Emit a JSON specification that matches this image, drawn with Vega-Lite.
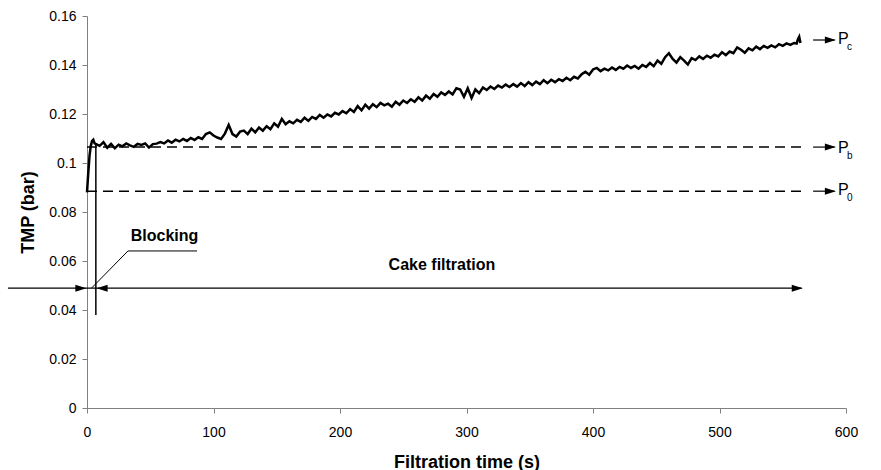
{
  "$schema": "https://vega.github.io/schema/vega-lite/v6.json",
  "width": 759,
  "height": 392,
  "autosize": {"type": "none"},
  "padding": {"left": 87, "top": 16, "right": 35, "bottom": 62},
  "background": "white",
  "config": {
    "view": {"stroke": null},
    "font": "Liberation Sans",
    "axis": {
      "grid": false,
      "domainColor": "#808080",
      "tickColor": "#808080",
      "tickSize": 5,
      "labelFlush": false,
      "labelFont": "Liberation Sans",
      "labelFontSize": 14,
      "labelColor": "#000000",
      "titleFont": "Liberation Sans",
      "titleFontSize": 18,
      "titleFontWeight": "bold",
      "titleColor": "#000000"
    }
  },
  "datasets": {
    "curve": [
      {"t":0,"p":0.088},{"t":1,"p":0.096},{"t":2,"p":0.103},{"t":3,"p":0.107},{"t":4,"p":0.109},{"t":5,"p":0.1095},{"t":6,"p":0.108},{"t":8,"p":0.1075},
      {"t":10,"p":0.1070},{"t":13,"p":0.1085},{"t":16,"p":0.1062},{"t":19,"p":0.1078},{"t":22,"p":0.1060},{"t":25,"p":0.1075},{"t":28,"p":0.1068},{"t":31,"p":0.1080},{"t":34,"p":0.1072},{"t":37,"p":0.1066},{"t":40,"p":0.1078},{"t":43,"p":0.1074},{"t":46,"p":0.1080},{"t":49,"p":0.1063},{"t":52,"p":0.1077},{"t":55,"p":0.1079},{"t":58,"p":0.1085},
      {"t":61,"p":0.1080},{"t":64,"p":0.1092},{"t":67,"p":0.1083},{"t":70,"p":0.1095},{"t":73,"p":0.1088},{"t":76,"p":0.1098},{"t":79,"p":0.1090},{"t":82,"p":0.1102},{"t":85,"p":0.1094},{"t":88,"p":0.1105},{"t":91,"p":0.1098},{"t":94,"p":0.1118},{"t":97,"p":0.1125},{"t":100,"p":0.1112},{"t":103,"p":0.1104},{"t":106,"p":0.1098},{"t":109,"p":0.1120},{"t":112,"p":0.1155},{"t":115,"p":0.1118},{"t":118,"p":0.1108},{"t":121,"p":0.1128},{"t":124,"p":0.1132},{"t":127,"p":0.1118},{"t":130,"p":0.1140},{"t":133,"p":0.1125},{"t":136,"p":0.1145},{"t":139,"p":0.1132},{"t":142,"p":0.1150},{"t":145,"p":0.1138},{"t":148,"p":0.1162},{"t":151,"p":0.1148},{"t":154,"p":0.1180},{"t":157,"p":0.1158},{"t":160,"p":0.1170},{"t":163,"p":0.1162},{"t":166,"p":0.1176},{"t":169,"p":0.1168},{"t":172,"p":0.1185},{"t":175,"p":0.1172},{"t":178,"p":0.1188},{"t":181,"p":0.1180},{"t":184,"p":0.1196},{"t":187,"p":0.1185},{"t":190,"p":0.1198},{"t":193,"p":0.1190},{"t":196,"p":0.1205},{"t":199,"p":0.1198},{"t":202,"p":0.1212},{"t":205,"p":0.1203},{"t":208,"p":0.1220},{"t":211,"p":0.1208},{"t":214,"p":0.1232},{"t":217,"p":0.1215},{"t":220,"p":0.1238},{"t":223,"p":0.1222},{"t":226,"p":0.1240},{"t":229,"p":0.1228},{"t":232,"p":0.1245},{"t":235,"p":0.1235},{"t":238,"p":0.1242},{"t":241,"p":0.1230},{"t":244,"p":0.1250},{"t":247,"p":0.1238},{"t":250,"p":0.1255},{"t":253,"p":0.1245},{"t":256,"p":0.1260},{"t":259,"p":0.1250},{"t":262,"p":0.1268},{"t":265,"p":0.1255},{"t":268,"p":0.1275},{"t":271,"p":0.1262},{"t":274,"p":0.1282},{"t":277,"p":0.1270},{"t":280,"p":0.1288},{"t":283,"p":0.1278},{"t":286,"p":0.1292},{"t":289,"p":0.1280},{"t":292,"p":0.1305},{"t":295,"p":0.1300},{"t":298,"p":0.1270},{"t":301,"p":0.1305},{"t":304,"p":0.1265},{"t":307,"p":0.1300},{"t":310,"p":0.1285},{"t":313,"p":0.1308},{"t":316,"p":0.1298},{"t":319,"p":0.1312},{"t":322,"p":0.1302},{"t":325,"p":0.1316},{"t":328,"p":0.1308},{"t":331,"p":0.1320},{"t":334,"p":0.1310},{"t":337,"p":0.1322},{"t":340,"p":0.1312},{"t":343,"p":0.1326},{"t":346,"p":0.1314},{"t":349,"p":0.1330},{"t":352,"p":0.1318},{"t":355,"p":0.1332},{"t":358,"p":0.1322},{"t":361,"p":0.1338},{"t":364,"p":0.1326},{"t":367,"p":0.1340},{"t":370,"p":0.1330},{"t":373,"p":0.1342},{"t":376,"p":0.1335},{"t":379,"p":0.1348},{"t":382,"p":0.1338},{"t":385,"p":0.1352},{"t":388,"p":0.1345},{"t":391,"p":0.1362},{"t":394,"p":0.1372},{"t":397,"p":0.1360},{"t":400,"p":0.1382},{"t":403,"p":0.1388},{"t":406,"p":0.1375},{"t":409,"p":0.1385},{"t":412,"p":0.1378},{"t":415,"p":0.1390},{"t":418,"p":0.1380},{"t":421,"p":0.1392},{"t":424,"p":0.1385},{"t":427,"p":0.1398},{"t":430,"p":0.1388},{"t":433,"p":0.1396},{"t":436,"p":0.1385},{"t":439,"p":0.1400},{"t":442,"p":0.1392},{"t":445,"p":0.1408},{"t":448,"p":0.1395},{"t":451,"p":0.1418},{"t":454,"p":0.1405},{"t":457,"p":0.1432},{"t":460,"p":0.1448},{"t":463,"p":0.1425},{"t":466,"p":0.1410},{"t":469,"p":0.1432},{"t":472,"p":0.1418},{"t":475,"p":0.1402},{"t":478,"p":0.1428},{"t":481,"p":0.1420},{"t":484,"p":0.1435},{"t":487,"p":0.1425},{"t":490,"p":0.1438},{"t":493,"p":0.1430},{"t":496,"p":0.1442},{"t":499,"p":0.1435},{"t":502,"p":0.1452},{"t":505,"p":0.1440},{"t":508,"p":0.1455},{"t":511,"p":0.1448},{"t":514,"p":0.1472},{"t":517,"p":0.1462},{"t":520,"p":0.1450},{"t":523,"p":0.1468},{"t":526,"p":0.1460},{"t":529,"p":0.1475},{"t":532,"p":0.1465},{"t":535,"p":0.1478},{"t":538,"p":0.1470},{"t":541,"p":0.1480},{"t":544,"p":0.1472},{"t":547,"p":0.1485},{"t":550,"p":0.1478},{"t":553,"p":0.1488},{"t":556,"p":0.1482},{"t":559,"p":0.1490},{"t":561,"p":0.1488},{"t":562,"p":0.1505},{"t":563,"p":0.1515},{"t":564,"p":0.1490}
    ],
    "dashed": [
      {"t":0,"t2":567,"p":0.1065},
      {"t":0,"t2":567,"p":0.0885}
    ],
    "shafts": [
      {"t":-62.5,"t2":565,"p":0.0489},
      {"t":574,"t2":591,"p":0.1502},
      {"t":574,"t2":591,"p":0.1065},
      {"t":574,"t2":591,"p":0.0885}
    ],
    "heads": [
      {"t":-0.5,"p":0.0489,"dir":"r"},
      {"t":7.6,"p":0.0489,"dir":"l"},
      {"t":565.8,"p":0.0489,"dir":"r"},
      {"t":592,"p":0.1502,"dir":"r"},
      {"t":592,"p":0.1065,"dir":"r"},
      {"t":592,"p":0.0885,"dir":"r"}
    ],
    "vline": [{"t":7,"p":0.038,"p2":0.108}],
    "leader": [
      {"i":0,"t":3.7,"p":0.049},
      {"i":1,"t":32.4,"p":0.0641},
      {"i":2,"t":87,"p":0.0641}
    ],
    "notes": [
      {"t":61.3,"p":0.0682,"label":"Blocking"},
      {"t":280.6,"p":0.0563,"label":"Cake filtration"}
    ],
    "plabels": [
      {"t":593.7,"p":0.1486,"label":"P"},
      {"t":593.7,"p":0.1041,"label":"P"},
      {"t":593.7,"p":0.0869,"label":"P"}
    ],
    "subs": [
      {"t":600.8,"p":0.1462,"label":"c"},
      {"t":600.8,"p":0.1018,"label":"b"},
      {"t":600.8,"p":0.0846,"label":"0"}
    ]
  },
  "layer": [
    {
      "data": {"name": "dashed"},
      "mark": {"type": "rule", "color": "#000000", "strokeWidth": 1.5, "strokeDash": [10, 6]},
      "encoding": {
        "x": {"field": "t", "type": "quantitative", "scale": {"domain": [0, 600], "nice": false},
          "axis": {"values": [0,100,200,300,400,500,600], "title": "Filtration time (s)", "labelPadding": 12, "titleY": 59, "titleBaseline": "alphabetic"}},
        "x2": {"field": "t2"},
        "y": {"field": "p", "type": "quantitative", "scale": {"domain": [0, 0.16], "nice": false},
          "axis": {"values": [0,0.02,0.04,0.06,0.08,0.1,0.12,0.14,0.16], "format": "~g", "title": "TMP (bar)", "labelPadding": 6, "titleX": -50}}
      }
    },
    {
      "data": {"name": "curve"},
      "mark": {"type": "line", "color": "#000000", "strokeWidth": 2.5, "interpolate": "linear"},
      "encoding": {
        "x": {"field": "t", "type": "quantitative"},
        "y": {"field": "p", "type": "quantitative"}
      }
    },
    {
      "data": {"name": "vline"},
      "mark": {"type": "rule", "color": "#000000", "strokeWidth": 1.5},
      "encoding": {
        "x": {"field": "t", "type": "quantitative"},
        "y": {"field": "p", "type": "quantitative"},
        "y2": {"field": "p2"}
      }
    },
    {
      "data": {"name": "shafts"},
      "mark": {"type": "rule", "color": "#000000", "strokeWidth": 1.2},
      "encoding": {
        "x": {"field": "t", "type": "quantitative"},
        "x2": {"field": "t2"},
        "y": {"field": "p", "type": "quantitative"}
      }
    },
    {
      "data": {"name": "leader"},
      "mark": {"type": "line", "color": "#000000", "strokeWidth": 1},
      "encoding": {
        "x": {"field": "t", "type": "quantitative"},
        "y": {"field": "p", "type": "quantitative"},
        "order": {"field": "i"}
      }
    },
    {
      "data": {"name": "heads"},
      "mark": {"type": "point", "filled": true, "color": "#000000", "opacity": 1, "size": 484, "strokeWidth": 0},
      "encoding": {
        "x": {"field": "t", "type": "quantitative"},
        "y": {"field": "p", "type": "quantitative"},
        "shape": {"field": "dir", "type": "nominal", "legend": null,
          "scale": {"domain": ["r", "l"], "range": ["M0,0L-1,-0.32L-1,0.32Z", "M0,0L1,-0.32L1,0.32Z"]}}
      }
    },
    {
      "data": {"name": "notes"},
      "mark": {"type": "text", "font": "Liberation Sans", "fontSize": 16, "fontWeight": "bold", "color": "#000000", "align": "center", "baseline": "alphabetic"},
      "encoding": {
        "x": {"field": "t", "type": "quantitative"},
        "y": {"field": "p", "type": "quantitative"},
        "text": {"field": "label"}
      }
    },
    {
      "data": {"name": "plabels"},
      "mark": {"type": "text", "font": "Liberation Sans", "fontSize": 16, "color": "#000000", "align": "left", "baseline": "alphabetic"},
      "encoding": {
        "x": {"field": "t", "type": "quantitative"},
        "y": {"field": "p", "type": "quantitative"},
        "text": {"field": "label"}
      }
    },
    {
      "data": {"name": "subs"},
      "mark": {"type": "text", "font": "Liberation Sans", "fontSize": 10, "color": "#000000", "align": "left", "baseline": "alphabetic"},
      "encoding": {
        "x": {"field": "t", "type": "quantitative"},
        "y": {"field": "p", "type": "quantitative"},
        "text": {"field": "label"}
      }
    }
  ]
}
